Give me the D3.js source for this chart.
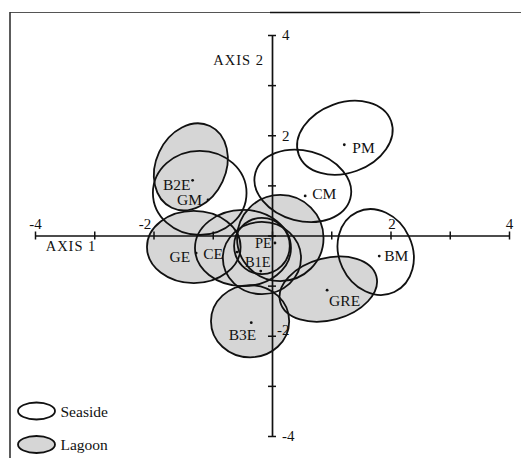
<!DOCTYPE html>
<html>
<head>
<meta charset="utf-8">
<script src="https://cdn.jsdelivr.net/npm/d3@7"></script>
<style>
  body { margin: 0; background: #fff; }
  svg { display: block; }
  text { font-family: "Liberation Serif", "DejaVu Serif", serif; fill: #111; }
</style>
</head>
<body>
<svg id="chart" width="521" height="458"></svg>
<script>
// group scores on the two axes, with their confidence ellipses (axis units)
var names    = ['PM', 'CM', 'BM', 'GM', 'B2E', 'GE', 'CE', 'PE', 'B1E', '', 'GRE', 'B3E'];
var habitat  = ['Seaside', 'Seaside', 'Seaside', 'Seaside', 'Lagoon', 'Lagoon', 'Lagoon', 'Lagoon', 'Lagoon', 'Lagoon', 'Lagoon', 'Lagoon'];
var pointX   = [1.22, 0.56, 1.81, -1.08, -1.34, -1.28, -0.59, 0.05, -0.19, null, 0.93, -0.35];
var pointY   = [1.81, 0.79, -0.41, 0.71, 1.10, -0.35, -0.33, -0.15, -0.71, null, -1.09, -1.74];
var ellCx    = [1.23, 0.52, 1.75, -1.22, -1.37, -1.32, -0.49, 0.14, -0.17, -0.17, 0.95, -0.37];
var ellCy    = [1.95, 0.99, -0.33, 0.85, 1.37, -0.23, -0.25, -0.05, -0.45, -0.21, -1.07, -1.71];
var ellRx    = [0.83, 0.83, 0.62, 0.79, 0.59, 0.79, 0.81, 0.73, 0.66, 0.47, 0.84, 0.66];
var ellRy    = [0.70, 0.70, 0.88, 0.84, 0.90, 0.72, 0.76, 0.86, 0.72, 0.56, 0.62, 0.72];
var ellAngle = [-20, 15, -25, 0, 25, 0, 0, 0, 0, 0, -15, 0];

var axisTicks  = [-4, -3, -2, -1, 0, 1, 2, 3, 4];
var tickLabels = [-4, -2, 2, 4];
var legendLabels = ['Seaside', 'Lagoon'];

// label placement next to each point (px)
var labelPos = {
  PM:  {dx: 8,   dy: 8,  anchor: 'start'},
  CM:  {dx: 7,   dy: 3,  anchor: 'start'},
  BM:  {dx: 5,   dy: 5,  anchor: 'start'},
  GM:  {dx: -6,  dy: 5,  anchor: 'end'},
  B2E: {dx: -2,  dy: 10, anchor: 'end'},
  GE:  {dx: -6,  dy: 9,  anchor: 'end'},
  CE:  {dx: -14, dy: 7,  anchor: 'end'},
  PE:  {dx: -3,  dy: 5,  anchor: 'end'},
  B1E: {dx: 10,  dy: -4, anchor: 'end'},
  GRE: {dx: 2,   dy: 16, anchor: 'start'},
  B3E: {dx: 5,   dy: 17, anchor: 'end'}
};

var fillGrey = '#d6d6d6';

var svg = d3.select('#chart');

var x = d3.scaleLinear().domain([-4, 4]).range([35, 509]);
var y = d3.scaleLinear().domain([-4, 4]).range([436, 35]);

// frame
svg.append('line').attr('x1', 10).attr('x2', 521).attr('y1', 12.5).attr('y2', 12.5)
  .attr('stroke', '#555').attr('stroke-width', 1.2);
svg.append('line').attr('x1', 270).attr('x2', 420).attr('y1', 12.5).attr('y2', 12.5)
  .attr('stroke', '#111').attr('stroke-width', 1.6);
svg.append('line').attr('x1', 10).attr('x2', 10).attr('y1', 12).attr('y2', 458)
  .attr('stroke', '#333').attr('stroke-width', 1.6);

var groups = names.map(function(n, i) {
  return {
    name: n, habitat: habitat[i], px: pointX[i], py: pointY[i],
    cx: ellCx[i], cy: ellCy[i], rx: ellRx[i], ry: ellRy[i], angle: ellAngle[i]
  };
});

function ellipseAttrs(sel) {
  sel.attr('cx', function(d) { return x(d.cx); })
    .attr('cy', function(d) { return y(d.cy); })
    .attr('rx', function(d) { return x(d.rx) - x(0); })
    .attr('ry', function(d) { return y(0) - y(d.ry); })
    .attr('transform', function(d) {
      return 'rotate(' + d.angle + ',' + x(d.cx) + ',' + y(d.cy) + ')';
    });
}

// grey fills of the lagoon ellipses first
svg.append('g').selectAll('ellipse')
  .data(groups.filter(function(d) { return d.habitat == 'Lagoon'; }))
  .join('ellipse')
  .call(ellipseAttrs)
  .attr('fill', fillGrey)
  .attr('stroke', 'none');

// axes crossing at the origin
var xAxis = svg.append('g')
  .attr('transform', 'translate(0,' + y(0) + ')')
  .call(d3.axisBottom(x).tickValues(axisTicks).tickSizeOuter(0)
    .tickFormat(function(d) { return tickLabels.indexOf(d) >= 0 ? String(d) : ''; }));
var yAxis = svg.append('g')
  .attr('transform', 'translate(' + x(0) + ',0)')
  .call(d3.axisRight(y).tickValues(axisTicks).tickSizeOuter(0)
    .tickFormat(function(d) { return (tickLabels.indexOf(d) >= 0) ? String(d) : ''; }));

[xAxis, yAxis].forEach(function(ax) {
  ax.select('.domain').attr('stroke', '#111').attr('stroke-width', 1.7);
  ax.selectAll('.tick line').attr('stroke', '#111').attr('stroke-width', 1.5);
  ax.selectAll('.tick text').attr('font-size', 15).attr('font-family', '"Liberation Serif", serif').attr('fill', '#111');
});
xAxis.selectAll('.tick line').attr('y1', -4).attr('y2', 4);
xAxis.selectAll('.tick text').attr('y', -7).attr('dy', 0)
  .attr('dx', function(d) { return d == -2 ? -9 : (d == 2 ? 1 : 0); });
yAxis.selectAll('.tick line').attr('x1', -4).attr('x2', 4);
yAxis.selectAll('.tick text').attr('x', 10).attr('dy', '0.32em')
  .attr('transform', function(d) { return d == -2 ? 'translate(-5,-6)' : null; });

// axis titles
svg.append('text').attr('x', x(0) - 8).attr('y', y(3.4)).attr('text-anchor', 'end')
  .attr('font-size', 14.5).attr('letter-spacing', 1).text('AXIS 2');
svg.append('text').attr('x', x(-3.82)).attr('y', y(0) + 15).attr('text-anchor', 'start')
  .attr('font-size', 14.5).attr('letter-spacing', 1).text('AXIS 1');

// all outlines on top
svg.append('g').selectAll('ellipse')
  .data(groups)
  .join('ellipse')
  .call(ellipseAttrs)
  .attr('fill', 'none')
  .attr('stroke', '#111')
  .attr('stroke-width', 1.8);

// group points and labels
var named = groups.filter(function(d) { return d.name != ''; });
svg.append('g').selectAll('circle')
  .data(named)
  .join('circle')
  .attr('cx', function(d) { return x(d.px); })
  .attr('cy', function(d) { return y(d.py); })
  .attr('r', 1.4)
  .attr('fill', '#111');

svg.append('g').selectAll('text')
  .data(named)
  .join('text')
  .attr('x', function(d) { return x(d.px) + labelPos[d.name].dx; })
  .attr('y', function(d) { return y(d.py) + labelPos[d.name].dy; })
  .attr('text-anchor', function(d) { return labelPos[d.name].anchor; })
  .attr('font-size', function(d) { return (d.name == 'PE' || d.name == 'B1E') ? 14.5 : 15.5; })
  .text(function(d) { return d.name; });

// legend
var legend = svg.append('g').selectAll('g')
  .data(legendLabels)
  .join('g')
  .attr('transform', function(d, i) { return 'translate(36.5,' + (411 + i * 33.5) + ')'; });
legend.append('ellipse')
  .attr('rx', 18.5).attr('ry', 8.5)
  .attr('fill', function(d) { return d == 'Lagoon' ? fillGrey : '#fff'; })
  .attr('stroke', '#111').attr('stroke-width', 1.8);
legend.append('text')
  .attr('x', 24).attr('y', 5.5)
  .attr('font-size', 15.5)
  .text(function(d) { return d; });
</script>
</body>
</html>
